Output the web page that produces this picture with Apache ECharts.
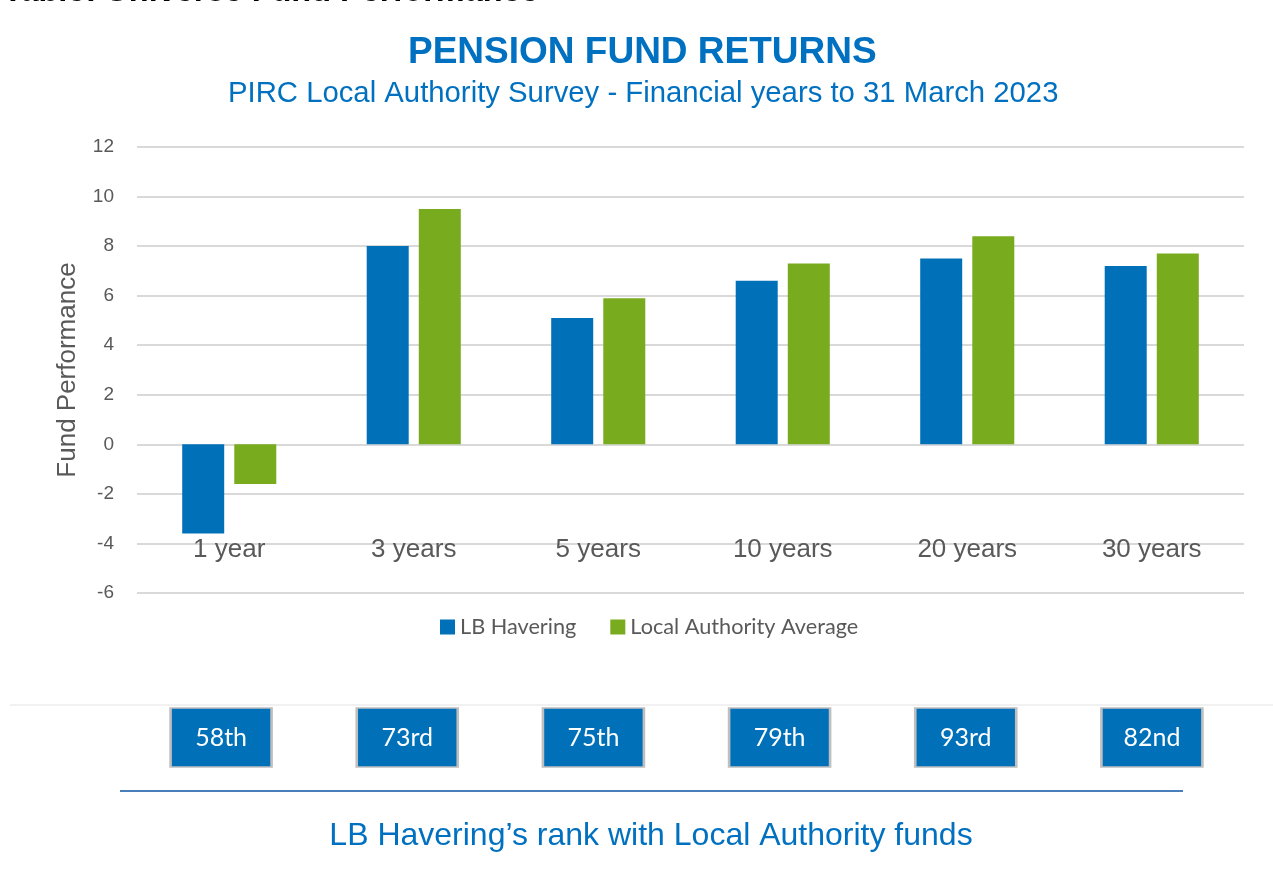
<!DOCTYPE html>
<html>
<head>
<meta charset="utf-8">
<script src="https://cdn.jsdelivr.net/npm/echarts@6/dist/echarts.min.js"></script>
<style>
  html, body { margin: 0; padding: 0; background: #fff; }
  #chart { width: 1273px; height: 880px; }
</style>
</head>
<body>
<div id="chart"></div>
<script>
// data
const categories = ['1 year', '3 years', '5 years', '10 years', '20 years', '30 years']
const havering = [-3.6, 8.0, 5.1, 6.6, 7.5, 7.2]
const laAverage = [-1.6, 9.5, 5.9, 7.3, 8.4, 7.7]
const ranks = ['58th', '73rd', '75th', '79th', '93rd', '82nd']

const BLUE = '#0070B8'
const GREEN = '#78AC1E'
const ARIAL = '"Liberation Sans", Arial, sans-serif'
const CALIBRI = 'Lato, "Noto Sans", sans-serif'

const myChart = echarts.init(document.getElementById('chart'))

const option = {
  animation: false,
  title: [
    {
      text: 'PENSION FUND RETURNS',
      left: 403,
      top: 29,
      textStyle: { fontFamily: ARIAL, fontSize: 37, fontWeight: 'bold', color: '#0070C0' }
    },
    {
      text: 'PIRC Local Authority Survey - Financial years to 31 March 2023',
      left: 223,
      top: 74,
      textStyle: { fontFamily: ARIAL, fontSize: 29.3, fontWeight: 'normal', color: '#0070C0' }
    }
  ],
  legend: {
    top: 611,
    left: 435,
    itemWidth: 15,
    itemHeight: 15,
    itemGap: 34,
    icon: 'rect',
    textStyle: { fontFamily: CALIBRI, fontSize: 21.7, color: '#595959' },
    data: ['LB Havering', 'Local Authority Average']
  },
  grid: [
    { left: 137, right: 29, top: 147, height: 446, containLabel: false },
    { left: 128, right: 28, top: 707, height: 61, containLabel: false }
  ],
  xAxis: [
    {
      type: 'category',
      gridIndex: 0,
      data: categories,
      offset: -40,
      axisLine: { show: false },
      axisTick: { show: false },
      axisLabel: { fontFamily: ARIAL, fontSize: 26, color: '#595959', margin: -16, verticalAlign: 'top' }
    },
    {
      type: 'category',
      gridIndex: 1,
      data: categories,
      show: false
    }
  ],
  yAxis: [
    {
      type: 'value',
      gridIndex: 0,
      min: -6,
      max: 12,
      interval: 2,
      name: 'Fund Performance',
      nameLocation: 'middle',
      nameGap: 56,
      nameTextStyle: { fontFamily: ARIAL, fontSize: 26, color: '#595959' },
      axisLine: { show: false },
      axisTick: { show: false },
      axisLabel: { fontFamily: ARIAL, fontSize: 19, color: '#595959', margin: 23 },
      splitLine: { lineStyle: { color: '#d9d9d9', width: 2 } }
    },
    {
      type: 'value',
      gridIndex: 1,
      min: 0,
      max: 1,
      show: false
    }
  ],
  series: [
    {
      name: 'LB Havering',
      type: 'bar',
      data: havering,
      barWidth: 42,
      barGap: '24%',
      itemStyle: { color: BLUE }
    },
    {
      name: 'Local Authority Average',
      type: 'bar',
      data: laAverage,
      barWidth: 42,
      itemStyle: { color: GREEN }
    },
    {
      name: 'rank',
      type: 'scatter',
      xAxisIndex: 1,
      yAxisIndex: 1,
      data: ranks.map(function (r) { return { value: 0.5, rank: r } }),
      symbol: 'rect',
      symbolSize: [101, 59],
      itemStyle: { color: BLUE, opacity: 1, borderColor: '#bfbfbf', borderWidth: 2 },
      label: {
        show: true,
        position: 'inside',
        formatter: function (p) { return ranks[p.dataIndex] },
        fontFamily: CALIBRI,
        fontSize: 25,
        color: '#fff'
      },
      silent: true
    }
  ],
  graphic: [
    {
      type: 'text',
      x: 3,
      y: -24,
      style: {
        text: 'Table: Universe Fund Performance',
        font: 'bold 32.5px "Liberation Sans", Arial, sans-serif',
        fill: '#000'
      }
    },
    {
      type: 'line',
      shape: { x1: 10, y1: 705, x2: 1273, y2: 705 },
      style: { stroke: '#e3e3e3', lineWidth: 1 }
    },
    {
      type: 'line',
      shape: { x1: 120, y1: 791, x2: 1183, y2: 791 },
      style: { stroke: '#4a7ebb', lineWidth: 2 }
    },
    {
      type: 'text',
      x: 651,
      y: 836,
      style: {
        text: 'LB Havering\u2019s rank with Local Authority funds',
        font: '32px "Liberation Sans", Arial, sans-serif',
        fill: '#0070C0',
        align: 'center',
        verticalAlign: 'middle'
      }
    }
  ]
}

myChart.setOption(option)
</script>
</body>
</html>
